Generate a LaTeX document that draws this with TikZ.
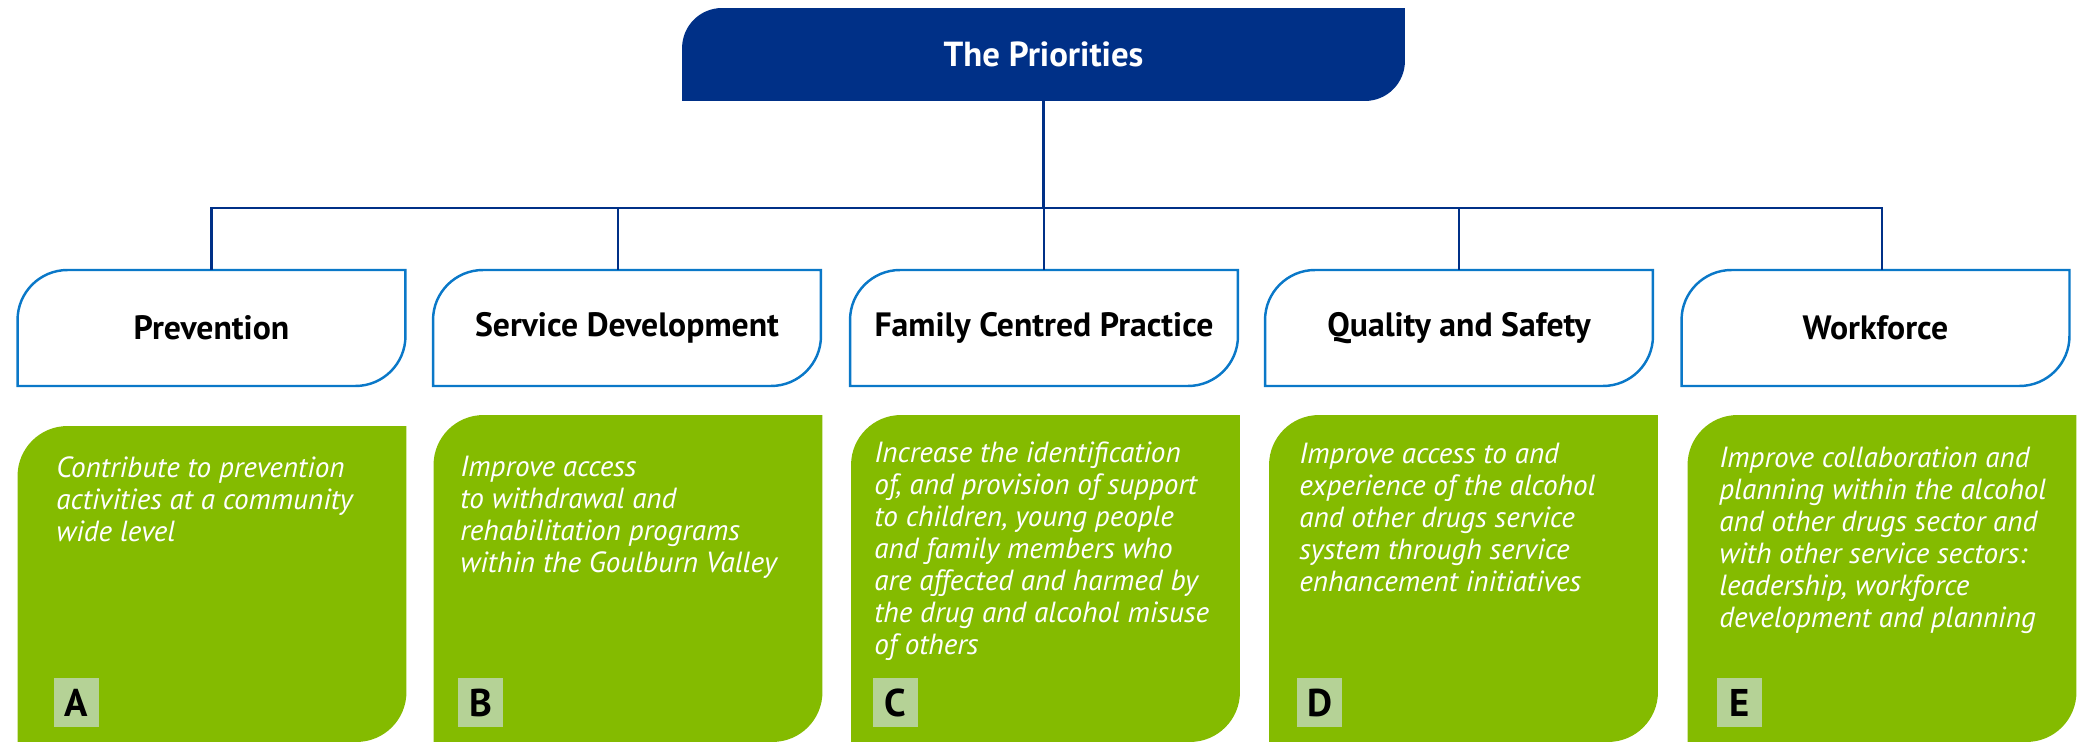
\documentclass[tikz,border=0pt]{standalone}
\usepackage{fontspec}
\setmainfont{PT Sans}
\usetikzlibrary{backgrounds}

\definecolor{prionavy}{RGB}{0,48,135}
\definecolor{headblue}{RGB}{10,120,200}
\definecolor{goalgreen}{RGB}{132,187,0}
\definecolor{tagfill}{RGB}{181,210,150}

\newcommand{\tabshape}[3]{%
  \path[#3] (#1.south west) -- ([yshift=-#2]#1.north west)
    arc[start angle=180, end angle=90, radius=#2] -- (#1.north east)
    -- ([yshift=#2]#1.south east)
    arc[start angle=0, end angle=-90, radius=#2] -- cycle;}

\begin{document}
\begin{tikzpicture}[x=0.02cm, y=-0.02cm,
  head/.style={inner sep=0pt, outer sep=0pt, minimum width=7.76cm, minimum height=2.32cm,
    font=\fontsize{19.2}{22}\selectfont\bfseries},
  goal/.style={inner sep=0pt, outer sep=0pt, minimum width=7.78cm, minimum height=6.54cm},
  blurb/.style={anchor=north west, inner sep=0pt, align=left, text=white,
    font=\fontsize{16.6}{18.2}\selectfont\itshape},
  tag/.style={fill=tagfill, inner sep=0pt, minimum width=0.9cm, minimum height=0.98cm,
    font=\fontsize{22}{24}\selectfont\bfseries},
  link/.style={draw=prionavy, line width=1.5pt}]

  \useasboundingbox (0,0) rectangle (2083,742);

  \node[inner sep=0pt, outer sep=0pt, minimum width=14.46cm, minimum height=1.86cm,
    text=white, font=\fontsize{19.8}{22}\selectfont\bfseries] (top) at (1043.5,54.5) {The Priorities};

  \node[head] (prev) at (211.5,328) {Prevention};
  \node[head] (serv) at (627,328) {Service Development};
  \node[head] (fam) at (1044,328) {Family Centred Practice};
  \node[head] (qual) at (1459,328) {Quality and Safety};
  \node[head] (work) at (1875.5,328) {Workforce};

  \foreach \h in {prev,serv,fam,qual,work}
    \tabshape{\h}{1cm}{draw=headblue, line width=1.4pt};

  \node[goal, minimum height=6.32cm] (ga) at (212,584) {};
  \node[goal] (gb) at (628,578.5) {};
  \node[goal] (gc) at (1045.5,578.5) {};
  \node[goal] (gd) at (1463.5,578.5) {};
  \node[goal] (ge) at (1882,578.5) {};

  \begin{pgfonlayer}{background}
    \tabshape{top}{0.8cm}{fill=prionavy};
    \foreach \g in {ga,gb,gc,gd,ge}
      \tabshape{\g}{1cm}{fill=goalgreen};
  \end{pgfonlayer}

  \coordinate (bus) at (0,208);
  \draw[link] (top.south) -- (top.south |- bus);
  \draw[link] (prev.north) |- ([xshift=0.13cm]work.north |- bus) -- ([xshift=0.13cm]work.north);
  \draw[link] ([xshift=-0.18cm]serv.north |- bus) -- ([xshift=-0.18cm]serv.north);
  \draw[link] (fam.north |- bus) -- (fam.north);
  \draw[link] (qual.north |- bus) -- (qual.north);

  \node[blurb] (ta) at (56,456) {Contribute to prevention\\activities at a community\\wide level};
  \node[blurb] (tb) at (460,456) {Improve access\\to withdrawal and\\rehabilitation programs\\within the Goulburn Valley};
  \node[blurb] (tc) at (874,442) {Increase the identification\\of, and provision of support\\to children, young people\\and family members who\\are affected and harmed by\\the drug and alcohol misuse\\of others};
  \node[blurb] (td) at (1299,443) {Improve access to and\\experience of the alcohol\\and other drugs service\\system through service\\enhancement initiatives};
  \node[blurb] (te) at (1719,447) {Improve collaboration and\\planning within the alcohol\\and other drugs sector and\\with other service sectors:\\leadership, workforce\\development and planning};

  \node[tag] (la) at (76.5,702.5) {A};
  \node[tag] (lb) at (480.5,702.5) {B};
  \node[tag] (lc) at (895.5,702.5) {C};
  \node[tag] (ld) at (1319.5,702.5) {D};
  \node[tag] (le) at (1739.5,702.5) {E};

\end{tikzpicture}
\end{document}
